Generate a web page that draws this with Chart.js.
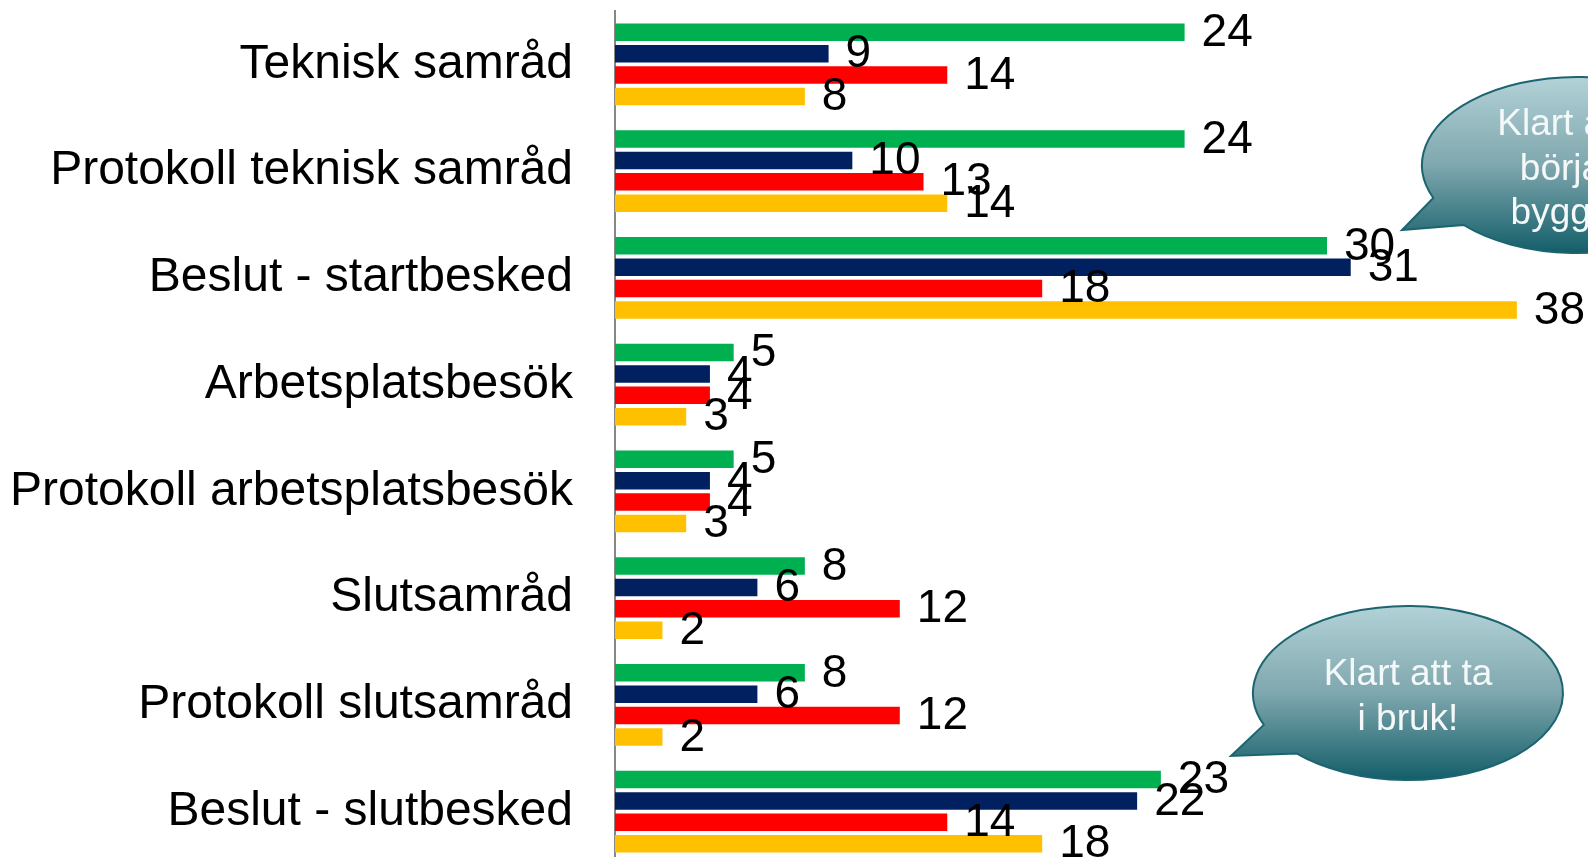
<!DOCTYPE html>
<html lang="sv">
<head>
<meta charset="utf-8">
<title>Handläggningssteg</title>
<script src="https://cdn.jsdelivr.net/npm/chart.js@4.4.1/dist/chart.umd.min.js"></script>
<style>
  html, body { margin: 0; padding: 0; background: #fff; overflow: hidden; }
  #wrap { width: 1588px; height: 857px; overflow: hidden; }
  canvas { display: block; }
</style>
</head>
<body>
<div id="wrap"><canvas id="stegChart" width="1760" height="865"></canvas></div>
<script>
'use strict';

// ============================================================
// Data
// ============================================================
const CATEGORIES = [
  'Teknisk samråd',
  'Protokoll teknisk samråd',
  'Beslut - startbesked',
  'Arbetsplatsbesök',
  'Protokoll arbetsplatsbesök',
  'Slutsamråd',
  'Protokoll slutsamråd',
  'Beslut - slutbesked',
];

const SERIES_GREEN  = [24, 24, 30, 5, 5, 8, 8, 23];
const SERIES_NAVY   = [9, 10, 31, 4, 4, 6, 6, 22];
const SERIES_RED    = [14, 13, 18, 4, 4, 12, 12, 14];
const SERIES_YELLOW = [8, 14, 38, 3, 3, 2, 2, 18];

const X_MAX = 45;

// ============================================================
// Stil
// ============================================================
const FONT = '"Liberation Sans", Arial, sans-serif';
const COLORS = ['#00B050', '#002060', '#FF0000', '#FFC000'];

// pratbubblor (ren dekor, pixelpositioner)
const BUBBLES = [
  { lines: ['Klart att', 'börja', 'bygga'], cx: 1577, cy: 165, rx: 155, ry: 88,
    a1: 158, a2: 137, tipX: 1402, tipY: 230, textX: 1561, baseY: 135, lineH: 44.5 },
  { lines: ['Klart att ta', 'i bruk!'], cx: 1408, cy: 693, rx: 155, ry: 87,
    a1: 158.5, a2: 136, tipX: 1231, tipY: 756, textX: 1408, baseY: 685, lineH: 45 },
];

// ============================================================
// Plugins
// ============================================================
const valueLabels = {
  id: 'valueLabels',
  afterDatasetsDraw(chart) {
    const ctx = chart.ctx;
    ctx.save();
    ctx.font = '46px ' + FONT;
    ctx.fillStyle = '#000';
    ctx.textAlign = 'left';
    ctx.textBaseline = 'middle';
    chart.data.datasets.forEach((ds, i) => {
      chart.getDatasetMeta(i).data.forEach((bar, j) => {
        ctx.fillText(String(ds.data[j]), bar.x + 17, bar.y + 1);
      });
    });
    ctx.restore();
  },
};

const bubbles = {
  id: 'bubbles',
  afterDraw(chart) {
    const ctx = chart.ctx;
    const rad = d => d * Math.PI / 180;
    BUBBLES.forEach(b => {
      ctx.save();
      ctx.beginPath();
      ctx.moveTo(b.cx + b.rx * Math.cos(rad(b.a1)), b.cy + b.ry * Math.sin(rad(b.a1)));
      ctx.lineTo(b.tipX, b.tipY);
      ctx.lineTo(b.cx + b.rx * Math.cos(rad(b.a2)), b.cy + b.ry * Math.sin(rad(b.a2)));
      ctx.ellipse(b.cx, b.cy, b.rx, b.ry, 0, rad(b.a2), rad(b.a1), true);
      ctx.closePath();
      const g = ctx.createLinearGradient(0, b.cy - b.ry, 0, b.cy + b.ry);
      g.addColorStop(0, '#b2d2d7');
      g.addColorStop(0.5, '#7fa7ae');
      g.addColorStop(1, '#135e69');
      ctx.fillStyle = g;
      ctx.fill();
      ctx.lineWidth = 2;
      ctx.strokeStyle = '#1b6470';
      ctx.stroke();

      ctx.font = '37px ' + FONT;
      ctx.fillStyle = '#f4f8f9';
      ctx.textAlign = 'center';
      ctx.textBaseline = 'alphabetic';
      b.lines.forEach((t, k) => ctx.fillText(t, b.textX, b.baseY + k * b.lineH));
      ctx.restore();
    });
  },
};

// ============================================================
// Diagram
// ============================================================
const datasets = [SERIES_GREEN, SERIES_NAVY, SERIES_RED, SERIES_YELLOW].map((d, i) => ({
  label: 'Serie ' + (i + 1),
  data: d,
  backgroundColor: COLORS[i],
  borderWidth: 0,
  categoryPercentage: 0.8,
  barPercentage: 0.82,
}));

new Chart(document.getElementById('stegChart'), {
  type: 'bar',
  data: { labels: CATEGORIES, datasets },
  plugins: [valueLabels, bubbles],
  options: {
    indexAxis: 'y',
    responsive: false,
    animation: false,
    layout: { padding: { top: 11, right: 77, bottom: 0, left: 0 } },
    plugins: {
      legend: { display: false },
      tooltip: { enabled: false },
    },
    scales: {
      x: {
        display: false,
        min: 0,
        max: X_MAX,
        grid: { display: false },
      },
      y: {
        afterFit(scale) {
          scale.width = 615;
          scale.paddingTop = 0;
          scale.paddingBottom = 0;
        },
        grid: { display: false, drawTicks: false },
        border: { display: true, color: '#878787', width: 2 },
        ticks: {
          padding: 42,
          color: '#000',
          font: { family: FONT, size: 48 },
        },
      },
    },
  },
});
</script>
</body>
</html>
